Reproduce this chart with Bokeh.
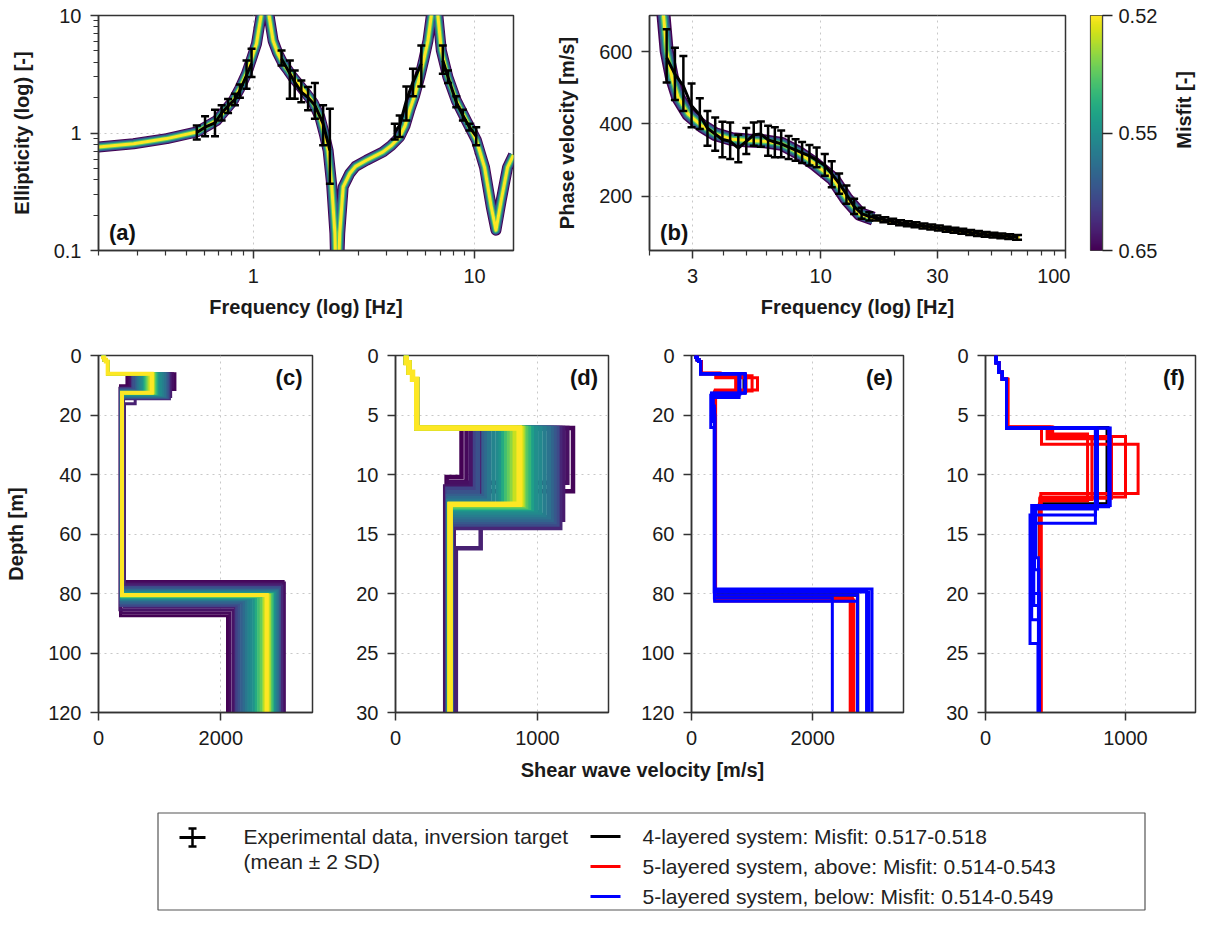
import numpy as np
from bokeh.plotting import figure
from bokeh.layouts import column, row
from bokeh.models import (Range1d, FixedTicker, Whisker, TeeHead, ColumnDataSource,
                          Label, CustomJSTickFormatter, LinearColorMapper)
from bokeh.palettes import Viridis256
from bokeh.embed import file_html
from bokeh.resources import INLINE
from bokeh.core.properties import value

FONT = "Liberation Sans"
LEG_FONT = "Liberation Sans"

# ---------------------------------------------------------------- data
# (a) ellipticity curve of the ensemble (best model) [Hz, -]
ell_freq = [0.2, 0.288, 0.407, 0.556, 0.684, 0.813, 0.87, 0.933, 0.98, 1.035, 1.09, 1.13, 1.17,
            1.23, 1.29, 1.365, 1.44, 1.51, 1.62, 1.74, 1.87, 2.0, 2.09, 2.18, 2.26, 2.34, 2.39,
            2.46, 2.55, 2.73, 2.9, 3.25, 3.86, 4.2, 4.59, 4.85, 5.09, 5.37, 5.65, 5.9, 6.16, 6.38,
            6.6, 6.83, 7.08, 7.58, 8.27, 9.18, 10.2, 11.1, 11.9, 12.5, 13.2, 14.1, 15.0]
ell_value = [0.76, 0.81, 0.896, 1.02, 1.28, 1.89, 2.4, 3.2, 4.2, 5.75, 10.5, 40.0, 11.0,
             6.1, 4.8, 3.89, 3.4, 2.99, 2.55, 2.16, 1.8, 1.37, 1.0, 0.71, 0.37, 0.14, 0.03,
             0.14, 0.348, 0.452, 0.52, 0.586, 0.69, 0.78, 0.925, 1.15, 1.56, 2.1, 2.99, 4.2, 6.1, 10.0,
             40.0, 10.0, 5.04, 2.99, 1.89, 1.28, 0.867, 0.51, 0.235, 0.149, 0.268, 0.51, 0.65]
# (a) experimental ellipticity, mean and +-2SD, four frequency groups
ell_tgt_freq = [[0.556, 0.606, 0.672, 0.72, 0.77, 0.827, 0.871, 0.933, 0.983],
                [1.343, 1.464, 1.54, 1.65, 1.77, 1.9, 2.07, 2.22],
                [4.36, 4.59, 4.92, 5.27, 5.75],
                [7.19, 7.59, 8.27, 8.86, 9.49, 10.18]]
ell_tgt_mean = [[1.01, 1.12, 1.22, 1.48, 1.70, 1.93, 2.3, 3.1, 3.9],
                [4.29, 3.2, 2.71, 2.23, 2.0, 1.72, 1.2, 0.71],
                [1.02, 1.16, 1.89, 2.71, 3.89],
                [4.14, 2.99, 1.83, 1.41, 1.12, 0.937]]
ell_tgt_lo = [[0.88, 0.94, 0.94, 1.28, 1.48, 1.72, 2.0, 2.38, 2.99],
              [3.76, 1.96, 1.96, 1.83, 1.56, 1.32, 0.786, 0.37],
              [0.88, 0.925, 1.28, 2.05, 2.49],
              [3.2, 2.66, 1.66, 1.28, 1.05, 0.786]]
ell_tgt_hi = [[1.16, 1.39, 1.58, 1.72, 1.95, 2.16, 2.59, 4.15, 5.2],
              [5.04, 4.14, 3.4, 2.8, 2.46, 2.66, 1.72, 1.61],
              [1.2, 1.41, 2.49, 3.52, 5.56],
              [5.56, 3.4, 2.05, 1.58, 1.2, 1.12]]

# (b) dispersion curve of the ensemble (best model) [Hz, m/s]
disp_freq = [2.28, 2.35, 2.47, 2.62, 2.88, 3.27, 3.71, 4.34, 5.06, 5.92, 6.93, 8.1, 9.48,
             11.25, 12.75, 14.45, 16.4, 21.1, 28.8, 39.4, 54.0, 65.0]
disp_value = [703, 602, 528, 473, 427, 395, 372, 358, 354, 352, 345, 321, 289,
              248, 193, 151, 138, 125, 114, 101, 92, 87]
disp_spread_end = 16.4   # above this frequency all models coincide
# (b) experimental phase velocity, mean and +-2SD
disp_tgt_freq = [2.35, 2.54, 2.75, 2.97, 3.21, 3.45, 3.71, 3.97, 4.27, 4.61, 4.97, 5.33, 5.70,
                 6.10, 6.50, 6.90, 7.40, 7.90, 8.40, 9.00, 9.63, 10.4, 11.1, 11.9, 12.75, 13.7,
                 14.7, 15.8, 16.9, 18.2, 19.6, 21.1, 22.7, 24.4, 26.3, 28.3, 30.4, 32.7, 35.2,
                 37.9, 40.8, 43.9, 47.2, 50.8, 54.7, 58.9, 63.4]
disp_tgt_mean = [583, 538, 505, 450, 425, 388, 372, 357, 352, 333, 352, 370, 372,
                 356, 350, 345, 336, 328, 320, 312, 300, 285, 262, 236, 205, 172,
                 152, 144, 140, 135, 131, 127, 124, 121, 118, 115, 112, 109, 106,
                 103, 100, 97, 94.5, 92.5, 90.5, 88.5, 86.5]
disp_tgt_lo = [515, 466, 436, 391, 386, 340, 326, 308, 303, 294, 317, 340, 337,
               312, 308, 308, 303, 298, 292, 285, 280, 257, 225, 207, 179, 151,
               138, 133, 133, 128, 124, 120, 117, 114, 111, 108, 105, 102, 99,
               96, 93, 90, 88, 86, 84, 82, 80]
disp_tgt_hi = [662, 611, 588, 512, 471, 436, 418, 406, 404, 370, 389, 404, 407,
               395, 391, 382, 367, 358, 350, 342, 335, 317, 297, 263, 230, 193,
               168, 156, 147, 142, 138, 134, 131, 128, 125, 122, 119, 116, 113,
               110, 107, 104, 101, 99, 97, 95, 93]

# misfit classes of the curve ensembles in (a)/(b)
band_misfit = [0.65, 0.60, 0.56, 0.535, 0.52]

# colour bar
cbar_misfit = [0.52, 0.55, 0.65]
cbar_pos = [1.0, 0.5, 0.0]

# (c)/(d) Vs profile ensemble (near-surface part is common)
surf_bottom = [0.6, 1.4, 2.0]
surf_vs = [75, 95, 120]
ens_vs1 = 150
ens_top2 = 6.1
ens_misfit = [0.650, 0.648, 0.645, 0.642, 0.640, 0.636, 0.632, 0.628,
              0.610, 0.605, 0.600, 0.595, 0.590, 0.585, 0.580,
              0.575, 0.570, 0.565, 0.560, 0.557, 0.554, 0.551, 0.549,
              0.546, 0.543, 0.540, 0.538, 0.536, 0.534, 0.532,
              0.530, 0.527, 0.525, 0.522, 0.520]
ens_vs2 = [465, 1250, 500, 1210, 530, 1180, 600, 1160,
           560, 1140, 580, 1120, 620, 1100, 640,
           1080, 660, 1050, 690, 1020, 720, 990, 740,
           960, 760, 940, 780, 920, 800, 905,
           820, 895, 840, 885, 871]
ens_bot2 = [10.2, 11.4, 10.6, 10.7, 11.0, 13.8, 16.2, 14.5,
            11.2, 14.2, 11.5, 14.0, 11.8, 13.8, 12.0,
            13.6, 12.2, 13.4, 12.4, 13.2, 12.6, 13.0, 12.8,
            12.9, 12.7, 12.8, 12.6, 12.7, 12.6, 12.6,
            12.5, 12.55, 12.5, 12.5, 12.5]
ens_vs3 = [360, 400, 370, 395, 350, 410, 425, 380,
           365, 390, 375, 395, 370, 385, 380,
           390, 372, 388, 376, 384, 378, 386, 380,
           383, 379, 382, 381, 384, 382, 383,
           381, 384, 382, 383, 385]
ens_top4 = [87.5, 76.0, 86.5, 76.5, 85.5, 77.0, 84.5, 77.5,
            84.0, 78.0, 83.5, 78.5, 83.0, 79.0, 82.5,
            79.2, 82.0, 79.5, 81.8, 79.8, 81.6, 80.0, 81.4,
            80.2, 81.2, 80.3, 81.0, 80.4, 80.9, 80.5,
            80.7, 80.6, 80.6, 80.5, 80.5]
ens_vs4 = [2110, 3020, 2150, 3040, 2200, 2980, 2240, 3000,
           2260, 2960, 2300, 2950, 2340, 2930, 2380,
           2920, 2420, 2900, 2460, 2880, 2500, 2870, 2540,
           2850, 2580, 2840, 2620, 2820, 2660, 2800,
           2700, 2790, 2720, 2770, 2750]

# (e)/(f) best profiles of the three parameterisations (layer bottoms [m], Vs [m/s])
lay4_bottom = [[6.1, 12.5, 80.4], [6.05, 12.45, 80.6]]
lay4_vs = [[150, 868, 385, 2740], [150, 872, 388, 2745]]
lay5a_bottom = [[6.0, 6.6, 12.2, 82.5], [6.0, 6.8, 11.9, 81.6], [6.1, 7.0, 12.0, 82.0],
                [6.1, 7.45, 11.6, 81.8], [6.0, 6.9, 12.1, 82.2]]
lay5a_vs = [[160, 480, 729, 398, 2640], [160, 470, 1000, 392, 2650], [155, 440, 900, 388, 2620],
            [155, 400, 1090, 395, 2660], [155, 455, 760, 390, 2680]]
lay5b_bottom = [[6.1, 12.6, 22.2, 78.5], [6.1, 13.4, 24.2, 79.5], [6.1, 14.1, 21.0, 80.5],
                [6.1, 12.9, 17.0, 81.5], [6.1, 12.8, 18.0, 82.6], [6.1, 12.7, 20.0, 79.0]]
lay5b_vs = [[150, 891, 330, 380, 2980], [150, 785, 318, 375, 2930], [150, 785, 345, 385, 2740],
            [150, 800, 360, 378, 2325], [150, 790, 350, 382, 2740], [150, 880, 340, 386, 2890]]

legend_labels = ["Experimental data, inversion target", "(mean \u00b1 2 SD)",
                 "4-layered system: Misfit: 0.517-0.518",
                 "5-layered system, above: Misfit: 0.514-0.543",
                 "5-layered system, below: Misfit: 0.514-0.549"]
legend_colors = ["black", "red", "blue"]

# ---------------------------------------------------------------- helpers
def misfit_color(m):
    p = float(np.interp(m, cbar_misfit, cbar_pos))
    return Viridis256[int(round(p * 255))]


def step_xy(bottoms, vs, zmax=125.0):
    xs, ys, top = [], [], 0.0
    for b, v in zip(list(bottoms) + [zmax], vs):
        xs += [v, v]
        ys += [top, b]
        top = b
    return xs, ys


def make_fig(fw, fh, left, right, top, bottom, **kw):
    p = figure(width=left + fw + right, height=top + fh + bottom,
               min_border_left=left, min_border_right=right,
               min_border_top=top, min_border_bottom=bottom,
               output_backend="svg", toolbar_location=None, **kw)
    p.background_fill_color = "white"
    p.border_fill_color = "white"
    p.outline_line_color = "#333333"
    p.outline_line_width = 1.5
    p.outline_line_alpha = 1.0
    for ax in p.axis:
        ax.major_label_text_font = FONT
        ax.major_label_text_font_size = "20px"
        ax.major_label_text_color = "#1a1a1a"
        ax.axis_label_text_font = FONT
        ax.axis_label_text_font_size = "20px"
        ax.axis_label_text_font_style = "bold"
        ax.axis_label_text_color = "#1a1a1a"
        ax.axis_line_color = "#333333"
        ax.axis_line_width = 1.5
        ax.major_tick_line_color = "#333333"
        ax.major_tick_line_width = 1.5
        ax.major_tick_out = 8
        ax.major_tick_in = 0
        ax.minor_tick_line_color = "#333333"
        ax.minor_tick_line_width = 1.2
        ax.minor_tick_out = 5
        ax.minor_tick_in = 0
    p.xaxis.major_label_standoff = 10
    p.yaxis.major_label_standoff = 9
    p.grid.grid_line_color = "#c8c8c8"
    p.grid.grid_line_dash = "dotted"
    p.grid.grid_line_width = 1
    return p


def plain():
    return CustomJSTickFormatter(code="return tick.toString();")


def add_whiskers(p, f, lo, hi, size=8):
    src = ColumnDataSource(dict(f=f, lo=lo, hi=hi))
    p.add_layout(Whisker(source=src, base="f", lower="lo", upper="hi", dimension="height",
                         level="overlay", line_color="black", line_width=2.5,
                         upper_head=TeeHead(size=size, line_color="black", line_width=2.5),
                         lower_head=TeeHead(size=size, line_color="black", line_width=2.5)))


def panel_label(p, x, y, text, align):
    p.add_layout(Label(x=x, y=y, text=text, text_font=FONT, text_font_size="22px",
                       text_font_style="bold", text_align=align, text_baseline="middle",
                       text_color="#111111"))


# ---------------------------------------------------------------- (a)
pa = make_fig(415, 235, 98, 5, 15, 80, x_axis_type="log", y_axis_type="log",
              x_range=Range1d(0.2, 15), y_range=Range1d(0.1, 10))
pa.xaxis.ticker = FixedTicker(ticks=[1, 10], minor_ticks=[0.2, 0.3, 0.4, 0.5, 0.6, 0.7, 0.8, 0.9,
                                                          2, 3, 4, 5, 6, 7, 8, 9])
pa.yaxis.ticker = FixedTicker(ticks=[0.1, 1, 10], minor_ticks=[0.2, 0.3, 0.4, 0.5, 0.6, 0.7, 0.8, 0.9,
                                                               2, 3, 4, 5, 6, 7, 8, 9])
pa.xaxis.formatter = plain()
pa.yaxis.formatter = plain()
pa.xaxis.axis_label = "Frequency (log) [Hz]"
pa.yaxis.axis_label = "Ellipticity (log) [-]"
pa.xaxis.axis_label_standoff = 10
pa.yaxis.axis_label_standoff = 18
for m, w in zip(band_misfit, [11, 9, 7, 5, 3]):
    pa.line(ell_freq, ell_value, line_color=misfit_color(m), line_width=w, line_join="round")
for f, mu, lo, hi in zip(ell_tgt_freq, ell_tgt_mean, ell_tgt_lo, ell_tgt_hi):
    pa.line(f, mu, line_color="black", line_width=3, line_join="round")
    add_whiskers(pa, f, lo, hi)
panel_label(pa, 0.223, 0.142, "(a)", "left")

# ---------------------------------------------------------------- (b)
pb = make_fig(416, 235, 131, 5, 15, 80, x_axis_type="log",
              x_range=Range1d(2, 100), y_range=Range1d(50, 700))
pb.xaxis.ticker = FixedTicker(ticks=[3, 10, 30, 100],
                              minor_ticks=[2, 4, 5, 6, 7, 8, 9, 20, 40, 50, 60, 70, 80, 90])
pb.yaxis.ticker = FixedTicker(ticks=[200, 400, 600])
pb.yaxis.minor_tick_line_color = None
pb.xaxis.formatter = plain()
pb.xaxis.axis_label = "Frequency (log) [Hz]"
pb.yaxis.axis_label = "Phase velocity [m/s]"
pb.xaxis.axis_label_standoff = 10
pb.yaxis.axis_label_standoff = 18
k = next(i for i, f in enumerate(disp_freq) if f >= disp_spread_end)
for m, w in zip(band_misfit, [14, 11, 8, 5.5, 3]):
    pb.line(disp_freq[:k + 1], disp_value[:k + 1], line_color=misfit_color(m), line_width=w,
            line_join="round")
pb.line(disp_freq[k:], disp_value[k:], line_color=misfit_color(band_misfit[-1]), line_width=4)
pb.line(disp_tgt_freq, disp_tgt_mean, line_color="black", line_width=3, line_join="round")
ks = next(i for i, f in enumerate(disp_tgt_freq) if f >= disp_spread_end)
add_whiskers(pb, disp_tgt_freq[:ks], disp_tgt_lo[:ks], disp_tgt_hi[:ks])
add_whiskers(pb, disp_tgt_freq[ks:], disp_tgt_lo[ks:], disp_tgt_hi[ks:], size=10)
panel_label(pb, 2.21, 100, "(b)", "left")

# ---------------------------------------------------------------- colour bar
pcb = figure(width=20 + 12 + 67, height=330, x_range=Range1d(0, 1), y_range=Range1d(0, 1),
             x_axis_location=None, y_axis_location="right",
             min_border_left=20, min_border_right=67, min_border_top=15, min_border_bottom=80,
             output_backend="svg", toolbar_location=None)
pcb.grid.visible = False
pcb.outline_line_color = "#444444"
pcb.outline_line_width = 1.2
grad = np.linspace(0, 1, 256).reshape(256, 1)
pcb.image(image=[grad], x=0, y=0, dw=1, dh=1,
          color_mapper=LinearColorMapper(palette=Viridis256, low=0, high=1))
pcb.yaxis.ticker = FixedTicker(ticks=cbar_pos)
pcb.yaxis.formatter = CustomJSTickFormatter(
    args=dict(pos=cbar_pos, labs=["%.2f" % m for m in cbar_misfit]),
    code="for (let i = 0; i < pos.length; i++) { if (Math.abs(pos[i] - tick) < 1e-6) return labs[i]; } return '';")
ax = pcb.yaxis[0]
ax.major_label_text_font = FONT
ax.major_label_text_font_size = "20px"
ax.major_label_text_color = "#1a1a1a"
ax.axis_line_color = "#444444"
ax.axis_line_width = 1.2
ax.major_tick_line_color = "#222222"
ax.major_tick_line_width = 1.5
ax.major_tick_out = 10
ax.major_tick_in = 0
ax.minor_tick_line_color = None
ax.major_label_standoff = 6

# colour-bar title (reads bottom to top)
pct = figure(width=28, height=330, x_range=Range1d(0, 28), y_range=Range1d(330, 0),
             x_axis_location=None, y_axis_location=None,
             min_border_left=0, min_border_right=0, min_border_top=0, min_border_bottom=0,
             output_backend="svg", toolbar_location=None)
pct.grid.visible = False
pct.outline_line_color = None
pct.text(x=[14], y=[132.5], text=["Misfit [-]"], angle=np.pi / 2, text_align="center",
         text_baseline="middle", text_font=value(FONT), text_font_size="20px",
         text_font_style="bold", text_color="#1a1a1a")

# ---------------------------------------------------------------- (c)-(f)
def ensemble_panel(p, lw):
    for i in range(len(ens_misfit)):
        xs, ys = step_xy(surf_bottom + [ens_top2, ens_bot2[i], ens_top4[i]],
                         surf_vs + [ens_vs1, ens_vs2[i], ens_vs3[i], ens_vs4[i]])
        best = i == len(ens_misfit) - 1
        p.line(xs, ys, line_color=misfit_color(ens_misfit[i]), line_width=lw + 1 if best else lw,
               line_join="miter")


def layered_panel(p):
    for bots, vss, col in ((lay4_bottom, lay4_vs, legend_colors[0]),
                           (lay5a_bottom, lay5a_vs, legend_colors[1]),
                           (lay5b_bottom, lay5b_vs, legend_colors[2])):
        for b, v in zip(bots, vss):
            xs, ys = step_xy(surf_bottom + b, surf_vs + v)
            p.line(xs, ys, line_color=col, line_width=3, line_join="miter")


def depth_fig(fw, left, right, xmax, zmax, xticks, zticks):
    p = make_fig(fw, 357, left, right, 25, 38, x_range=Range1d(0, xmax), y_range=Range1d(zmax, 0))
    p.xaxis.ticker = FixedTicker(ticks=xticks)
    p.yaxis.ticker = FixedTicker(ticks=zticks)
    p.xaxis.minor_tick_line_color = None
    p.yaxis.minor_tick_line_color = None
    return p


pc = depth_fig(214, 98, 5, 3500, 120, [0, 2000], [0, 20, 40, 60, 80, 100, 120])
pc.yaxis.axis_label = "Depth [m]"
pc.yaxis.axis_label_standoff = 18
ensemble_panel(pc, 3)
panel_label(pc, 3336, 7.5, "(c)", "right")

pd = depth_fig(213, 78, 5, 1500, 30, [0, 1000], [0, 5, 10, 15, 20, 25, 30])
ensemble_panel(pd, 4.5)
panel_label(pd, 1427, 1.85, "(d)", "right")

pe = depth_fig(212, 78, 5, 3500, 120, [0, 2000], [0, 20, 40, 60, 80, 100, 120])
layered_panel(pe)
panel_label(pe, 3324, 7.5, "(e)", "right")

pf = depth_fig(210, 77, 2, 1500, 30, [0, 1000], [0, 5, 10, 15, 20, 25, 30])
layered_panel(pf)
panel_label(pf, 1424, 1.85, "(f)", "right")

# ---------------------------------------------------------------- shared x label + legend
pl = figure(width=1197, height=165, x_range=Range1d(0, 1197), y_range=Range1d(915, 750),
            x_axis_location=None, y_axis_location=None,
            min_border_left=0, min_border_right=0, min_border_top=0, min_border_bottom=0,
            output_backend="svg", toolbar_location=None)
pl.grid.visible = False
pl.outline_line_color = None
pl.background_fill_color = "white"
pl.border_fill_color = "white"
pl.add_layout(Label(x=642, y=769, text="Shear wave velocity [m/s]", text_font=FONT,
                    text_font_size="20px", text_font_style="bold", text_align="center",
                    text_baseline="middle", text_color="#1a1a1a"))
pl.quad(left=[157.5], right=[1144.5], top=[812.5], bottom=[909.5], fill_color=None,
        line_color="#555555", line_width=1.2)
# error-bar symbol
pl.line([179, 205], [837, 837], line_color="black", line_width=3)
pl.line([192, 192], [828, 846], line_color="black", line_width=2.5)
pl.line([188, 196], [828, 828], line_color="black", line_width=2.5)
pl.line([188, 196], [846, 846], line_color="black", line_width=2.5)
for txt, yy in zip(legend_labels[:2], [836, 861]):
    pl.add_layout(Label(x=243, y=yy, text=txt, text_font=LEG_FONT, text_font_size="21px",
                        text_align="left", text_baseline="middle", text_color="#222222"))
for txt, col, yy in zip(legend_labels[2:], legend_colors, [836, 866, 896]):
    pl.line([590, 620], [yy, yy], line_color=col, line_width=3)
    pl.add_layout(Label(x=642, y=yy, text=txt, text_font=LEG_FONT, text_font_size="21px",
                        text_align="left", text_baseline="middle", text_color="#222222"))

layout = column(row(pa, pb, pcb, pct), row(pc, pd, pe, pf), pl)
open("out.html", "w").write(file_html(layout, INLINE, title="Inversion results"))
